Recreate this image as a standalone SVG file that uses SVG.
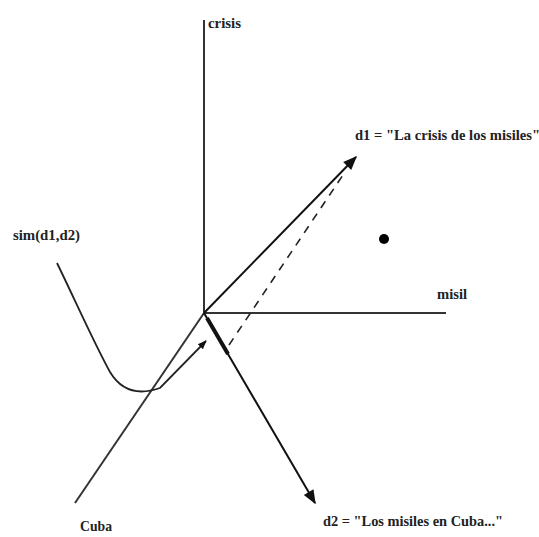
<svg xmlns="http://www.w3.org/2000/svg" width="539" height="537" viewBox="0 0 539 537">
<style>
.ax{stroke:#333;stroke-width:2;fill:none}
.vec{stroke:#111;stroke-width:2;fill:none}
.t{font-family:"Liberation Serif",serif;font-size:14px;fill:#222;font-weight:bold}
</style>
<defs>
<marker id="ah" viewBox="0 0 10 10" refX="9" refY="5" markerWidth="9" markerHeight="9" orient="auto" markerUnits="userSpaceOnUse">
<path d="M0,1 L10,5 L0,9 z" fill="#111"/>
</marker>
<marker id="ahb" viewBox="0 0 10 10" refX="9" refY="5" markerWidth="20" markerHeight="14" orient="auto" markerUnits="userSpaceOnUse">
<path d="M0,1 L10,5 L0,9 z" fill="#111"/>
</marker>
</defs>
<rect width="539" height="537" fill="#fff"/>
<g id="connectors">
<line class="ax" x1="204" y1="20" x2="204" y2="313"/>
<line class="ax" x1="204" y1="313" x2="446" y2="313"/>
<line class="ax" x1="204" y1="313" x2="75" y2="503"/>
<line class="vec" x1="204" y1="313" x2="356" y2="157" marker-end="url(#ahb)"/>
<line class="vec" x1="204" y1="313" x2="315" y2="503" marker-end="url(#ahb)"/>
<line x1="207" y1="318" x2="228" y2="354" stroke="#111" stroke-width="4"/>
<line x1="229" y1="345" x2="345" y2="172" stroke="#222" stroke-width="1.6" stroke-dasharray="8,7"/>
<path d="M57,263 C75,300 95,345 110,372 C122,392 140,395 160,388 L206,341" fill="none" stroke="#222" stroke-width="1.8" marker-end="url(#ah)"/>
</g>
<g id="point"><circle cx="384" cy="239" r="5" fill="#000"/></g>
<g id="label-crisis"><text class="t" x="208" y="28" textLength="33" lengthAdjust="spacingAndGlyphs">crisis</text></g>
<g id="label-misil"><text class="t" x="437" y="299" textLength="30" lengthAdjust="spacingAndGlyphs">misil</text></g>
<g id="label-cuba"><text class="t" x="80" y="531" textLength="32" lengthAdjust="spacingAndGlyphs">Cuba</text></g>
<g id="label-sim"><text class="t" x="13" y="240" textLength="67" lengthAdjust="spacingAndGlyphs">sim(d1,d2)</text></g>
<g id="label-d1"><text class="t" x="355" y="140" textLength="185" lengthAdjust="spacingAndGlyphs">d1 = "La crisis de los misiles"</text></g>
<g id="label-d2"><text class="t" x="323" y="526" textLength="180" lengthAdjust="spacingAndGlyphs">d2 = "Los misiles en Cuba..."</text></g>
</svg>
